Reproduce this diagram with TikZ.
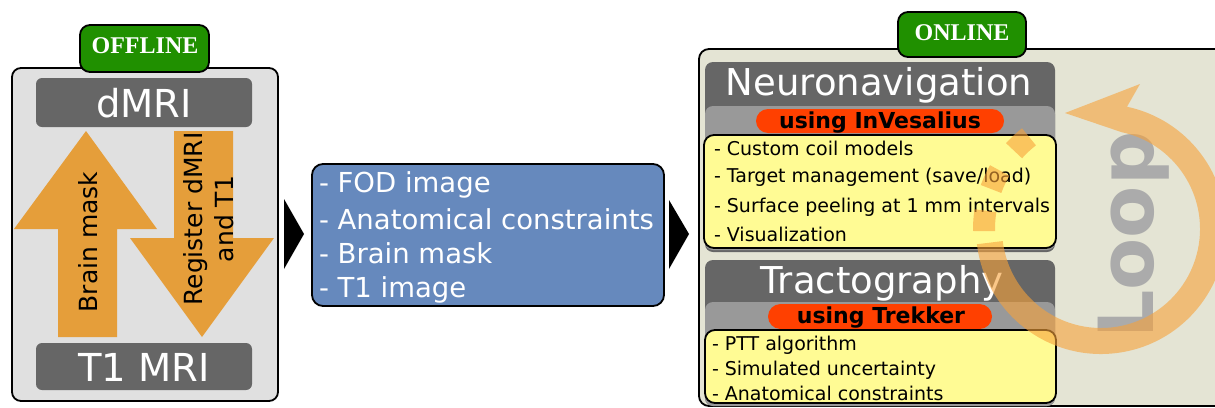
\documentclass[tikz,border=0pt]{standalone}
\usepackage{fontspec}
\setmainfont{DejaVu Sans}
\newfontfamily\serifb{Liberation Serif}
\usetikzlibrary{calc}
\definecolor{offbg}{HTML}{E0E0E0}
\definecolor{onbg}{HTML}{E4E4D4}
\definecolor{dgray}{HTML}{666666}
\definecolor{lgray}{HTML}{999999}
\definecolor{tagg}{HTML}{209000}
\definecolor{pillr}{HTML}{FF4000}
\definecolor{ylw}{HTML}{FFFB94}
\definecolor{arrc}{HTML}{E59E3A}
\definecolor{bluef}{HTML}{6689BD}
\definecolor{loopc}{HTML}{F7A23A}
\definecolor{looptxtc}{HTML}{ABABAB}
\newcommand\myfs[1]{\fontsize{#1}{#1}\selectfont}
\begin{document}
\begin{tikzpicture}[x=1pt,y=-1pt,
  bx/.style={rectangle, inner sep=0pt, outer sep=0pt},
  frame/.style={bx, draw=black, line width=1.8pt},
  lbl/.style={inner sep=0pt, outer sep=0pt, anchor=base},
  lline/.style={inner sep=0pt, outer sep=0pt, anchor=base west},
  bigarrow/.style={fill=arrc}
]
\useasboundingbox (0,0) rectangle (1215,407);
\clip (0,0) rectangle (1215,407);
% ---------- OFFLINE ----------
\node[frame, fill=offbg, rounded corners=9pt, minimum width=266pt, minimum height=333pt] (offbox) at (145,234.5) {};
\node[frame, fill=tagg, rounded corners=10pt, minimum width=129pt, minimum height=47pt] (offtag) at (144.5,48.5) {};
\node[lbl, text=white] (offtxt) at (145,53) {\serifb\bfseries\myfs{24}OFFLINE};
\node[bx, fill=dgray, rounded corners=6pt, minimum width=216pt, minimum height=49pt] (dmri) at (144,102.5) {};
\node[lbl, text=white] (dmritxt) at (144,117) {\myfs{38.5}dMRI};
\node[bx, fill=dgray, rounded corners=6pt, minimum width=216pt, minimum height=47pt] (t1) at (144,366.5) {};
\node[lbl, text=white] (t1txt) at (144,381) {\myfs{38.5}T1 MRI};
\fill[bigarrow] (58,337) -- (117,337) -- (117,229) -- (157,229) -- (86,131) -- (14,229) -- (58,229) -- cycle;
\fill[bigarrow] (174,131) -- (233,131) -- (233,238) -- (274,238) -- (202,337) -- (130,238) -- (174,238) -- cycle;
\node[lbl, rotate=90] (bmask) at (97,242) {\myfs{25}Brain mask};
\node[lbl, rotate=90] (reg1) at (202,219) {\myfs{25}Register dMRI};
\node[lbl, rotate=90] (reg2) at (233,219) {\myfs{25}and T1};
% ---------- middle ----------
\fill (284,199) -- (304,234) -- (284,269) -- cycle;
\node[frame, fill=bluef, rounded corners=11pt, minimum width=352pt, minimum height=142pt] (blue) at (488,235) {};
\fill (669,200) -- (689,234) -- (669,269) -- cycle;
\node[lline, text=white] (b1) at (319,192) {\myfs{27.5}- FOD image};
\node[lline, text=white] (b2) at (319,229) {\myfs{27.5}- Anatomical constraints};
\node[lline, text=white] (b3) at (319,263) {\myfs{27.5}- Brain mask};
\node[lline, text=white] (b4) at (319,297) {\myfs{27.5}- T1 image};
% ---------- ONLINE ----------
\node[frame, fill=onbg, rounded corners=10pt, minimum width=541pt, minimum height=357pt] (onbox) at (969.5,227.5) {};
\node[frame, fill=tagg, rounded corners=10pt, minimum width=128pt, minimum height=45pt] (ontag) at (962,34.5) {};
\node[lbl, text=white] (ontxt) at (962,40) {\serifb\bfseries\myfs{24}ONLINE};
% Neuronavigation
\node[bx, fill=dgray, rounded corners=8pt, minimum width=350pt, minimum height=190pt] (nav) at (880,157) {};
\node[bx, fill=lgray, rounded corners=8pt, minimum width=350pt, minimum height=144pt] (navl) at (880,178) {};
\node[lbl, text=white] (navtxt) at (879,95) {\myfs{37}Neuronavigation};
\node[bx, fill=pillr, rounded corners=12pt, minimum width=248pt, minimum height=24pt] (navpill) at (880,121) {};
\node[lbl] (navpilltxt) at (880,128) {\myfs{22}\bfseries using InVesalius};
\node[frame, fill=ylw, rounded corners=10pt, minimum width=352pt, minimum height=113pt] (navy) at (880,191.5) {};
\node[lline] (n1) at (714,155) {\myfs{19}- Custom coil models};
\node[lline] (n2) at (714,182) {\myfs{19}- Target management (save/load)};
\node[lline] (n3) at (714,212) {\myfs{19}- Surface peeling at 1 mm intervals};
\node[lline] (n4) at (714,241) {\myfs{19}- Visualization};
% Tractography
\node[bx, fill=dgray, rounded corners=8pt, minimum width=350pt, minimum height=146pt] (tr) at (880,333) {};
\node[bx, fill=lgray, rounded corners=8pt, minimum width=350pt, minimum height=104pt] (trl) at (880,354) {};
\node[lbl, text=white] (trtxt) at (882,293) {\myfs{37}Tractography};
\node[bx, fill=pillr, rounded corners=12.5pt, minimum width=224pt, minimum height=25pt] (trpill) at (880,316.5) {};
\node[lbl] (trpilltxt) at (881,323) {\myfs{22}\bfseries using Trekker};
\node[frame, fill=ylw, rounded corners=10pt, minimum width=351pt, minimum height=73pt] (try) at (880.5,366.5) {};
\node[lline] (t1l) at (712,350) {\myfs{19}- PTT algorithm};
\node[lline] (t2l) at (712,375) {\myfs{19}- Simulated uncertainty};
\node[lline] (t3l) at (712,400) {\myfs{19}- Anatomical constraints};
% Loop
\node[lbl, rotate=90, text=looptxtc] (looptxt) at (1153,235) {\myfs{76}\bfseries Loop};
\coordinate (lc) at (1101,229);
\fill[loopc, opacity=0.6] ($(lc)+(-187:125)$) arc[start angle=-187, end angle=-438, radius=125]
  -- (1140,84) -- (1065,113) -- ($(lc)+(-438:99)$) arc[start angle=-438, end angle=-187, radius=99] -- cycle;
\foreach \a in {171,150,128}{
  \draw[loopc, opacity=0.6, line width=22pt] ($(lc)+(-\a:117)$) arc[start angle=-\a, end angle=-\a-10, radius=117];
}
\end{tikzpicture}
\end{document}
